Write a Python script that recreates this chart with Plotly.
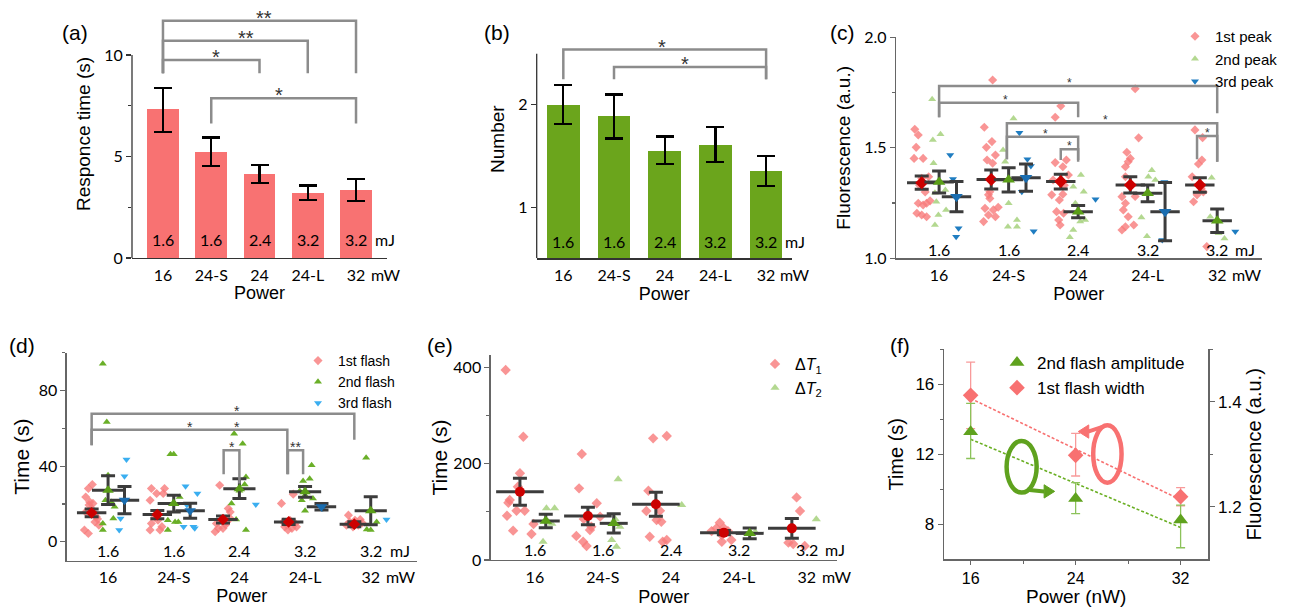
import numpy as np
import plotly.graph_objects as go

W, H = 1294, 607

# ------------------------------------------------------------------ data
power_labels = ["16", "24-S", "24", "24-L", "32"]
energy_labels = ["1.6", "1.6", "2.4", "3.2", "3.2"]
cats = [0, 1, 2, 3, 4]

# (a) response time (s)
a_time = [7.32, 5.22, 4.14, 3.22, 3.35]
a_err_hi = [1.07, 0.72, 0.43, 0.35, 0.56]
a_err_lo = [1.10, 0.67, 0.46, 0.36, 0.56]
# significance: (left, right, bar level, left leg end, right leg end, label, label x)
a_sig = [(0, 4, 11.69, 9.1, 9.1, "**", 2.1),
         (0, 3, 10.70, 9.1, 9.1, "**", 1.73),
         (0, 2, 9.75, 9.1, 9.1, "*", 1.1),
         (1, 4, 7.87, 6.63, 6.63, "*", 2.4)]

# (b) number of flashes
b_num = [2.00, 1.89, 1.55, 1.61, 1.35]
b_err_hi = [0.19, 0.21, 0.14, 0.17, 0.15]
b_err_lo = [0.19, 0.22, 0.13, 0.165, 0.14]
b_sig = [(0, 4, 2.54, 2.25, 2.25, "*", 1.94),
         (1, 4, 2.37, 2.25, 2.25, "*", 2.4)]

# (c) peak fluorescence (a.u.)
c_red_vals = [
    [1.584, 1.558, 1.502, 1.452, 1.452, 1.362, 1.369, 1.249, 1.241, 1.249, 1.204, 1.196, 1.188, 1.26, 1.30, 1.33],
    [1.807, 1.593, 1.528, 1.502, 1.467, 1.445, 1.43, 1.301, 1.287, 1.271, 1.226, 1.219, 1.231, 1.196, 1.188, 1.166],
    [1.689, 1.638, 1.433, 1.445, 1.414, 1.354, 1.377, 1.287, 1.264, 1.29, 1.211, 1.204, 1.173, 1.151, 1.33],
    [1.767, 1.545, 1.48, 1.452, 1.437, 1.414, 1.369, 1.279, 1.249, 1.219, 1.188, 1.151, 1.143, 1.128, 1.33, 1.28],
    [1.581, 1.546, 1.445, 1.427, 1.369, 1.317, 1.287, 1.256, 1.30, 1.053]]
c_red_jit = [
    [-0.35, -0.30, -0.33, -0.36, -0.23, -0.25, -0.15, -0.30, -0.23, -0.18, -0.32, -0.25, -0.18, -0.13, -0.20, -0.28],
    [-0.23, -0.35, -0.24, -0.32, -0.19, -0.31, -0.23, -0.27, -0.29, -0.27, -0.34, -0.22, -0.15, -0.29, -0.19, -0.36],
    [-0.25, -0.33, -0.33, -0.17, -0.22, -0.36, -0.14, -0.38, -0.27, -0.22, -0.31, -0.21, -0.28, -0.26, -0.20],
    [-0.18, -0.13, -0.30, -0.25, -0.28, -0.32, -0.32, -0.37, -0.32, -0.35, -0.28, -0.20, -0.32, -0.37, -0.25, -0.18],
    [-0.32, -0.21, -0.22, -0.27, -0.36, -0.23, -0.29, -0.34, -0.20, -0.15]]
c_green_vals = [
    [1.72, 1.535, 1.561, 1.43, 1.297, 1.256, 1.309, 1.219, 1.196, 1.151],
    [1.633, 1.49, 1.437, 1.249, 1.173, 1.143, 1.143],
    [1.377, 1.324, 1.301, 1.249, 1.173, 1.166, 1.128, 1.095],
    [1.398, 1.369, 1.354, 1.185, 1.10],
    [1.364, 1.188, 1.113, 1.09]]
c_green_jit = [
    [-0.10, -0.09, 0.02, -0.08, -0.06, -0.04, 0.09, 0.10, -0.01, -0.06],
    [0.07, -0.08, -0.05, 0.0, 0.12, -0.01, 0.12],
    [0.04, -0.07, 0.08, -0.04, 0.10, 0.03, -0.07, -0.12],
    [0.06, 0.01, 0.11, -0.09, -0.01],
    [-0.08, -0.10, 0.02, 0.105]]
c_blue_vals = [[1.467, 1.359, 1.136, 1.098], [1.568, 1.448, 1.418, 1.301, 1.122], [1.267], [1.345, 1.083], [1.121]]
c_blue_jit = [[0.16, 0.20, 0.28, 0.245], [0.155, 0.27, 0.32, 0.19, 0.36], [0.25], [0.24, 0.21], [0.26]]
c_red_mean = [1.342, 1.357, 1.347, 1.332, 1.332]
c_red_se = [0.030, 0.043, 0.033, 0.037, 0.033]
c_green_mean = [1.345, 1.355, 1.211, 1.294, 1.170]
c_green_se = [0.050, 0.055, 0.028, 0.038, 0.053]
c_blue_mean = [1.279, 1.365, None, 1.211, None]
c_blue_se = [0.068, 0.062, None, 0.132, None]
c_sig = [(0, 4, 1.78, 1.638, 1.656, "*", 1.87),
         (0, 2, 1.704, 1.638, 1.638, "*", 0.96),
         (0.975, 4, 1.611, 1.448, 1.437, "*", 2.39),
         (0.975, 2, 1.55, 1.448, 1.437, "*", 1.53),
         (1.75, 2, 1.493, 1.445, 1.445, "*", 1.88),
         (3.71, 4, 1.553, 1.448, 1.437, "*", 3.86)]

# (d) flash times (s)
d_red_vals = [
    [30.3, 28.2, 23.7, 21.1, 20.3, 19.4, 17.5, 15.8, 15.0, 13.2, 12.0, 10.5, 8.8, 6.2, 4.4],
    [28.2, 28.2, 25.5, 25.5, 22.0, 15.0, 13.0, 11.4, 9.7, 8.0, 6.2, 6.2],
    [29.9, 17.6, 15.8, 9.7, 11.4, 10.5, 12.3, 7.1, 5.3, 7.1, 9.0],
    [20.3, 25.2, 10.5, 11.4, 9.7, 7.9, 7.1, 7.9, 6.2, 9.0],
    [14.1, 10.5, 11.4, 11.8, 8.8, 7.9, 8.8, 10.0]]
d_red_jit = [
    [-0.24, -0.30, -0.34, -0.28, -0.23, -0.29, -0.25, -0.34, -0.20, -0.18, -0.16, -0.20, -0.14, -0.36, -0.30],
    [-0.34, -0.14, -0.26, -0.16, -0.36, -0.26, -0.29, -0.24, -0.34, -0.18, -0.36, -0.21],
    [-0.30, -0.17, -0.14, -0.35, -0.27, -0.20, -0.14, -0.32, -0.37, -0.25, -0.21],
    [-0.36, -0.18, -0.33, -0.23, -0.15, -0.31, -0.20, -0.13, -0.26, -0.28],
    [-0.34, -0.32, -0.24, -0.16, -0.37, -0.27, -0.19, -0.13]]
d_green_vals = [
    [94.1, 63.3, 35.2, 27.5, 22.0, 21.1, 18.5, 12.3, 9.7, 6.2],
    [46.3, 46.3, 23.7, 20.0, 11.4, 10.5, 10.5, 6.2],
    [57.2, 51.9, 34.3, 30.3, 27.0, 20.3, 11.8, 6.2],
    [40.5, 33.4, 32.2, 26.9, 24.6, 22.9, 22.0, 16.4],
    [44.5, 10.5, 6.5, 6.2]]
d_green_jit = [
    [-0.08, -0.02, 0.0, 0.0, -0.04, 0.05, 0.10, 0.08, -0.08, -0.08],
    [-0.05, 0.0, 0.09, 0.0, -0.09, 0.02, 0.07, -0.09],
    [-0.08, 0.05, 0.10, 0.08, 0.0, -0.12, -0.05, 0.10],
    [0.10, 0.07, -0.03, -0.08, 0.0, 0.12, -0.05, 0.0],
    [-0.07, 0.09, -0.06, 0.0]]
d_blue_vals = [[43.5, 34.7, 12.3, 6.2], [29.4, 25.5, 19.4, 7.9, 7.9, 7.1], [19.7], [19.4, 17.6], [11.8]]
d_blue_jit = [[0.28, 0.25, 0.19, 0.17], [0.18, 0.36, 0.20, 0.15, 0.30, 0.32], [0.25], [0.23, 0.27], [0.24]]
d_red_mean = [15.3, 14.4, 11.8, 10.5, 9.3]
d_red_se = [2.0, 2.2, 1.8, 1.4, 1.3]
d_green_mean = [27.3, 20.2, 28.1, 26.4, 16.4]
d_green_se = [7.6, 4.4, 5.2, 2.9, 7.4]
d_blue_mean = [22.0, 16.4, None, 18.5, None]
d_blue_se = [7.2, 4.0, None, 1.7, None]
d_sig = [(-0.25, 3.75, 67.7, 51.0, 54.0, "*", 1.97),
         (-0.25, 2.73, 59.3, 51.0, 35.7, "*", 1.25),
         (1.76, 2.0, 48.4, 35.7, 30.8, "*", 1.88),
         (2.74, 2.97, 48.4, 35.7, 35.7, "**", 2.85)]
d_extra_star = [(1.97, 59.3, "*")]

# (e) intervals (s)
e_red_vals = [
    [394.4, 256, 180, 152, 124.6, 119, 102.4, 102.4, 92, 60.9, 74.7, 54],
    [220, 148.8, 117.7, 90, 62.3, 69, 49.8, 38, 29, 85],
    [252.6, 257.4, 143.9, 101.7, 102, 83, 79.5, 48.4, 41.5, 38],
    [77.4, 65.7, 66, 60, 51.9, 41.5, 38, 60],
    [130, 101.7, 36, 33.2, 29]]
e_red_jit = [
    [-0.43, -0.17, -0.22, -0.25, -0.37, -0.39, -0.27, -0.15, -0.41, -0.32, -0.02, -0.05],
    [-0.31, -0.35, -0.09, -0.04, -0.19, -0.17, -0.39, -0.29, -0.24, -0.28],
    [-0.26, -0.06, -0.33, -0.36, -0.16, -0.21, -0.14, -0.31, -0.06, -0.12],
    [-0.28, -0.33, -0.22, -0.16, -0.25, -0.11, -0.25, -0.40],
    [-0.15, -0.10, -0.27, -0.20, -0.03]]
e_green_vals = [[107.3, 107.3, 38, 80, 75], [167.5, 69, 41.5, 27.6, 85], [114.2], [55, 58], [84.5]]
e_green_jit = [[0.17, 0.29, 0.12, 0.19, 0.25], [0.225, 0.25, 0.13, 0.20, 0.18], [0.16], [0.18, 0.24], [0.14]]
e_red_mean = [141.8, 91.3, 115.6, 56.8, 65.7]
e_red_se = [28, 18, 25, 4.5, 20.7]
e_green_mean = [81, 76.1, None, 55.3, None]
e_green_se = [14, 20, None, 11, None]

# (f) trends vs power
f_power = [16, 24, 32]
f_width = [15.37, 11.94, 9.58]
f_width_hi = [1.90, 1.26, 0.52]
f_width_lo = [1.90, 1.18, 0.53]
f_amp = [1.343, 1.216, 1.175]
f_amp_hi = [0.054, 0.030, 0.028]
f_amp_lo = [0.051, 0.029, 0.053]

# ------------------------------------------------------------------ style
TXT = "Liberation Sans, Arial, sans-serif"
TCK = "Lato, Liberation Sans, sans-serif"
AXC = "#333333"
AXC2 = "#666666"
ERR = "#3c3c3c"
BRK = "#8c8c8c"
BAR_RED = "#f87272"
BAR_GREEN = "#6ba51c"
PT_RED = "#f87a7a"
PT_GREEN_L = "#a6d17c"
PT_GREEN_D = "#6aaf28"
PT_BLUE_D = "#1f7dc1"
PT_BLUE_L = "#3aaef0"
M_RED = "#cc0000"
M_GREEN = "#5a9e18"
M_BLUE = "#1a6db0"
F_RED = "#f87171"
F_GREEN = "#5fa21e"


def xdom(a, b):
    return [a / W, b / W]


def ydom(top, bot):
    return [1 - bot / H, 1 - top / H]


def PX(p):
    return p / W


def PY(p):
    return 1 - p / H


fig = go.Figure()
shapes = []
annos = []


def xaxis_cfg(dom, rng, color=AXC, title="Power", standoff=4, **kw):
    d = dict(domain=xdom(*dom), range=rng, showgrid=False, zeroline=False,
             showline=True, linecolor=color, linewidth=1.3, ticks="", ticklen=0,
             ticklabelstandoff=2,
             tickfont=dict(family=TCK, size=16, color="black"),
             title=dict(text=title, font=dict(family=TXT, size=18, color="black"), standoff=standoff),
             fixedrange=True, automargin=False)
    d.update(kw)
    return d


def yaxis_cfg(dom, rng, tickvals, ticktext=None, minor=None, title="", showline=True,
              color=AXC, standoff=8, tsize=19, **kw):
    d = dict(domain=ydom(*dom), range=rng, showgrid=False, zeroline=False,
             showline=showline, linecolor=color, linewidth=1.3,
             ticks="outside", ticklen=5, tickwidth=1.2, tickcolor=color,
             tickvals=tickvals, tickfont=dict(family=TCK, size=16, color="black"),
             title=dict(text=title, font=dict(family=TXT, size=tsize, color="black"), standoff=standoff),
             fixedrange=True, automargin=False)
    if ticktext is not None:
        d["ticktext"] = ticktext
    if minor is not None:
        d["minor"] = dict(tickvals=minor, ticklen=3, tickwidth=1.2, tickcolor=color, ticks="outside")
    d.update(kw)
    return d


def cat_ticks():
    return dict(tickmode="array", tickvals=cats, ticktext=power_labels)


def unit_labels(xr, yr, ylab, mj_shift, mw_shift, tick_drop):
    # energy labels along the bottom and unit suffixes
    for i, t in enumerate(energy_labels):
        annos.append(dict(x=cats[i], y=ylab, xref=xr, yref=yr + " domain", text=t, showarrow=False,
                          font=dict(family=TCK, size=16, color="black"), yanchor="middle"))
    annos.append(dict(x=cats[-1], y=ylab, xref=xr, yref=yr + " domain", text="mJ", showarrow=False,
                      xshift=mj_shift, font=dict(family=TCK, size=16, color="black"), yanchor="middle"))
    annos.append(dict(x=cats[-1], y=0, xref=xr, yref=yr + " domain", text="mW", showarrow=False,
                      xshift=mw_shift, yshift=-tick_drop, font=dict(family=TCK, size=16, color="black"),
                      yanchor="middle"))


def brackets(xr, yr, sig, width, fsize, star_shift):
    for (x0, x1, yb, yl0, yl1, lab, lx) in sig:
        shapes.append(dict(type="path", xref=xr, yref=yr,
                           path=f"M {x0},{yl0} L {x0},{yb} L {x1},{yb} L {x1},{yl1}",
                           line=dict(color=BRK, width=width), layer="above"))
        annos.append(dict(x=lx, y=yb, xref=xr, yref=yr, text=lab, showarrow=False,
                          font=dict(family=TXT, size=fsize, color="#333333"),
                          yanchor="middle", yshift=star_shift))


def dots(xa, ya, vals, jit, color, symbol, size, name, legend, opacity=1.0):
    xs, ys = [], []
    for i, (vv, jj) in enumerate(zip(vals, jit)):
        for v, j in zip(vv, jj):
            xs.append(cats[i] + j)
            ys.append(v)
    fig.add_trace(go.Scatter(x=xs, y=ys, mode="markers", xaxis=xa, yaxis=ya,
                             marker=dict(symbol=symbol, size=size, color=color, opacity=opacity,
                                         line=dict(width=0)),
                             name=name, showlegend=True, legend=legend, hoverinfo="skip"))


def means(xa, ya, mvals, se, off, mcolor, msym, msize, linelen, capw=7):
    idx = [i for i, m in enumerate(mvals) if m is not None]
    x = [cats[i] + off for i in idx]
    y = [mvals[i] for i in idx]
    e = [se[i] for i in idx]
    fig.add_trace(go.Scatter(x=x, y=y, mode="markers", xaxis=xa, yaxis=ya,
                             marker=dict(symbol="line-ew-open", size=linelen, color=ERR,
                                         line=dict(width=3, color=ERR)),
                             error_y=dict(type="data", array=e, color=ERR, thickness=3, width=capw),
                             showlegend=False, hoverinfo="skip"))
    fig.add_trace(go.Scatter(x=x, y=y, mode="markers", xaxis=xa, yaxis=ya,
                             marker=dict(symbol=msym, size=msize, color=mcolor, line=dict(width=0)),
                             showlegend=False, hoverinfo="skip"))


# ------------------------------------------------------------------ (a)
fig.add_trace(go.Bar(x=cats, y=a_time, width=0.657, xaxis="x", yaxis="y",
                     marker=dict(color=BAR_RED, line=dict(width=0)),
                     error_y=dict(type="data", symmetric=False, array=a_err_hi, arrayminus=a_err_lo,
                                  color="black", thickness=2.2, width=9),
                     showlegend=False, hoverinfo="skip"))
brackets("x", "y", a_sig, 2.5, 20, 3)
unit_labels("x", "y", 0.0726, 29, 29, 16)
shapes.append(dict(type="line", xref="x domain", yref="y", x0=0, x1=0, y0=0, y1=10,
                   line=dict(color=AXC, width=1.3)))

# ------------------------------------------------------------------ (b)
fig.add_trace(go.Bar(x=cats, y=[v - 0.5 for v in b_num], base=0.5, width=0.645, xaxis="x2", yaxis="y2",
                     marker=dict(color=BAR_GREEN, line=dict(width=0)),
                     error_y=dict(type="data", symmetric=False, array=b_err_hi, arrayminus=b_err_lo,
                                  color="black", thickness=2.2, width=9),
                     showlegend=False, hoverinfo="skip"))
brackets("x2", "y2", b_sig, 2.5, 20, 3)
unit_labels("x2", "y2", 0.07, 29, 28, 16)
shapes.append(dict(type="line", xref="x2 domain", yref="y2", x0=0, x1=0, y0=0.5, y1=2.5,
                   line=dict(color=AXC, width=1.3)))

# ------------------------------------------------------------------ (c)
dots("x3", "y3", c_red_vals, c_red_jit, PT_RED, "diamond", 7, "1st peak", "legend", 0.8)
dots("x3", "y3", c_green_vals, c_green_jit, PT_GREEN_L, "triangle-up", 7, "2nd peak", "legend", 0.85)
dots("x3", "y3", c_blue_vals, c_blue_jit, PT_BLUE_D, "triangle-down", 7, "3rd peak", "legend", 1.0)
means("x3", "y3", c_red_mean, c_red_se, -0.25, M_RED, "diamond", 10, 21)
means("x3", "y3", c_green_mean, c_green_se, 0.0, M_GREEN, "triangle-up", 11, 21)
means("x3", "y3", c_blue_mean, c_blue_se, 0.25, M_BLUE, "triangle-down", 11, 21)
brackets("x3", "y3", c_sig, 2.5, 12, 3)
unit_labels("x3", "y3", 0.041, 28, 29, 16)

# ------------------------------------------------------------------ (d)
dots("x4", "y4", d_red_vals, d_red_jit, PT_RED, "diamond", 7, "1st flash", "legend2", 0.8)
dots("x4", "y4", d_green_vals, d_green_jit, PT_GREEN_D, "triangle-up", 7, "2nd flash", "legend2", 1.0)
dots("x4", "y4", d_blue_vals, d_blue_jit, PT_BLUE_L, "triangle-down", 7, "3rd flash", "legend2", 1.0)
means("x4", "y4", d_red_mean, d_red_se, -0.25, M_RED, "diamond", 9, 21)
means("x4", "y4", d_green_mean, d_green_se, 0.0, M_GREEN, "triangle-up", 10, 23)
means("x4", "y4", d_blue_mean, d_blue_se, 0.25, M_BLUE, "triangle-down", 10, 21)
brackets("x4", "y4", d_sig, 2.5, 14, 3)
for (sx, sy, st) in d_extra_star:
    annos.append(dict(x=sx, y=sy, xref="x4", yref="y4", text=st, showarrow=False,
                      font=dict(family=TXT, size=14, color="#333333"), yanchor="middle", yshift=3))
unit_labels("x4", "y4", 0.051, 29, 30, 16)

# ------------------------------------------------------------------ (e)
dots("x5", "y5", e_red_vals, e_red_jit, PT_RED, "diamond", 8, "Δ<i>T</i><sub>1</sub>", "legend3", 0.8)
dots("x5", "y5", e_green_vals, e_green_jit, PT_GREEN_L, "triangle-up", 8, "Δ<i>T</i><sub>2</sub>", "legend3", 0.85)
means("x5", "y5", e_red_mean, e_red_se, -0.22, M_RED, "circle", 10, 34)
means("x5", "y5", e_green_mean, e_green_se, 0.16, M_GREEN, "triangle-up", 11, 20)
unit_labels("x5", "y5", 0.049, 28, 30, 16)

# ------------------------------------------------------------------ (f)
kw_fit = np.polyfit(f_power, f_width, 1)
ka_fit = np.polyfit(f_power, f_amp, 1)
fx = [f_power[0], f_power[-1]]
fig.add_trace(go.Scatter(x=fx, y=list(np.polyval(kw_fit, fx)), mode="lines", xaxis="x6", yaxis="y6",
                         line=dict(color=F_RED, width=1.6, dash="3px,2px"), showlegend=False, hoverinfo="skip"))
fig.add_trace(go.Scatter(x=fx, y=list(np.polyval(ka_fit, fx)), mode="lines", xaxis="x6", yaxis="y7",
                         line=dict(color="#6aaf23", width=1.6, dash="3px,2px"), showlegend=False, hoverinfo="skip"))
fig.add_trace(go.Scatter(x=f_power, y=f_amp, mode="markers", xaxis="x6", yaxis="y7",
                         marker=dict(symbol="triangle-up", size=13, color=F_GREEN),
                         error_y=dict(type="data", symmetric=False, array=f_amp_hi, arrayminus=f_amp_lo,
                                      color="#8cc25a", thickness=1.3, width=4.5),
                         name="2nd flash amplitude", legend="legend4", hoverinfo="skip"))
fig.add_trace(go.Scatter(x=f_power, y=f_width, mode="markers", xaxis="x6", yaxis="y6",
                         marker=dict(symbol="diamond", size=12, color=F_RED),
                         error_y=dict(type="data", symmetric=False, array=f_width_hi, arrayminus=f_width_lo,
                                      color="#f89a9a", thickness=1.3, width=4.5),
                         name="1st flash width", legend="legend4", hoverinfo="skip"))
# circled arrows indicating the axis of each series
shapes.append(dict(type="circle", xref="x6", yref="y6", x0=25.34, x1=27.5, y0=10.38, y1=13.66,
                   line=dict(color=F_RED, width=4.5)))
shapes.append(dict(type="circle", xref="x6", yref="y6", x0=18.74, x1=21.03, y0=9.81, y1=12.76,
                   line=dict(color=F_GREEN, width=4.5)))
# arrow shafts and heads (left -> time axis, right -> fluorescence axis)
shapes.append(dict(type="path", xref="x6", yref="y6", path="M 26.1,13.58 L 24.95,13.3",
                   line=dict(color=F_RED, width=4)))
shapes.append(dict(type="path", xref="x6", yref="y6", path="M 24.2,13.3 L 25.0,13.68 L 25.0,12.92 Z",
                   line=dict(color=F_RED, width=1), fillcolor=F_RED))
shapes.append(dict(type="path", xref="x6", yref="y6", path="M 20.3,9.98 L 21.6,9.88",
                   line=dict(color=F_GREEN, width=4)))
shapes.append(dict(type="path", xref="x6", yref="y6", path="M 22.4,9.88 L 21.6,10.26 L 21.6,9.5 Z",
                   line=dict(color=F_GREEN, width=1), fillcolor=F_GREEN))

# ------------------------------------------------------------------ panel labels
for lab, x, y in [("(a)", 75, 33), ("(b)", 497, 33), ("(c)", 842, 33),
                  ("(d)", 22, 345), ("(e)", 440, 345), ("(f)", 900, 345)]:
    annos.append(dict(x=PX(x), y=PY(y), xref="paper", yref="paper", text=lab, showarrow=False,
                      font=dict(family=TXT, size=21, color="black"), xanchor="center", yanchor="middle"))

# ------------------------------------------------------------------ layout
layout = dict(
    template="none",
    width=W, height=H, autosize=False, margin=dict(l=0, r=0, t=0, b=0, autoexpand=False),
    paper_bgcolor="white", plot_bgcolor="white", bargap=0,
    font=dict(family=TXT, color="black"),
    # (a)
    xaxis=xaxis_cfg((132, 387), [-0.642, 4.642], anchor="y", **cat_ticks()),
    yaxis=yaxis_cfg((10, 258), [0, 12.217], [0, 5, 10], minor=[2.5, 7.5],
                    title="Responce time (s)", showline=False, anchor="x"),
    # (b)
    xaxis2=xaxis_cfg((536.7, 791.7), [-0.525, 4.505], anchor="y2", **cat_ticks()),
    yaxis2=yaxis_cfg((20, 258.3), [0.5, 2.829], [1, 2], title="Number", showline=False, anchor="x2"),
    # (c)
    xaxis3=xaxis_cfg((896, 1261.7), [-0.62, 4.64], color=AXC2, anchor="y3", **cat_ticks()),
    yaxis3=yaxis_cfg((37.3, 258.3), [1, 2], [1.0, 1.5, 2.0], ["1.0", "1.5", "2.0"], minor=[1.25, 1.75],
                     title="Fluorescence (a.u.)", color=AXC2, anchor="x3", tsize=19),
    # (d)
    xaxis4=xaxis_cfg((66.7, 416.7), [-0.63, 4.70], color=AXC2, anchor="y4", **cat_ticks()),
    yaxis4=yaxis_cfg((352.7, 560.7), [-10, 100], [0, 40, 80], minor=[20, 60, 100],
                     title="Time (s)", color=AXC2, anchor="x4", tsize=21, standoff=3),
    # (e)
    xaxis5=xaxis_cfg((490.7, 836.7), [-0.65, 4.44], color=AXC2, anchor="y5", standoff=10, **cat_ticks()),
    yaxis5=yaxis_cfg((355, 560), [0, 425.6], [0, 200, 400], minor=[100, 300],
                     title="Time (s)", color=AXC2, anchor="x5", tsize=21, standoff=0),
    # (f)
    xaxis6=dict(domain=xdom(944, 1208.3), range=[13.97, 34.11], showgrid=False, zeroline=False,
                showline=True, linecolor=AXC2, linewidth=1.3, ticks="outside", ticklen=4, tickcolor=AXC2,
                tickvals=f_power, tickfont=dict(family=TXT, size=16, color="black"),
                minor=dict(tickvals=[20, 28], ticklen=3, tickcolor=AXC2, ticks="outside"),
                title=dict(text="Power (nW)", font=dict(family=TXT, size=19, color="black"), standoff=0),
                anchor="y6", fixedrange=True, automargin=False),
    yaxis6=dict(domain=ydom(349.3, 559.3), range=[6, 18], showgrid=False, zeroline=False,
                showline=True, linecolor=AXC2, linewidth=1.3, ticks="outside", ticklen=5, tickcolor=AXC2,
                tickvals=[8, 12, 16], tickfont=dict(family=TXT, size=17, color="black"),
                minor=dict(tickvals=[10, 14, 18], ticklen=3, tickcolor=AXC2, ticks="outside"),
                title=dict(text="Time (s)", font=dict(family=TXT, size=20, color="black"), standoff=6),
                anchor="x6", fixedrange=True, automargin=False),
    yaxis7=dict(domain=ydom(349.3, 559.3), range=[1.1, 1.5], overlaying="y6", side="right",
                showgrid=False, zeroline=False, showline=True, linecolor=AXC2, linewidth=1.3,
                ticks="outside", ticklen=5, tickcolor=AXC2, tickvals=[1.2, 1.4], ticktext=["1.2", "1.4"],
                tickfont=dict(family=TXT, size=17, color="black"),
                minor=dict(tickvals=[1.3, 1.5], ticklen=3, tickcolor=AXC2, ticks="outside"),
                title=dict(text="Fluorescence (a.u.)", font=dict(family=TXT, size=20, color="black"), standoff=6),
                anchor="x6", fixedrange=True, automargin=False),
    legend=dict(x=PX(1175), y=PY(20), xanchor="left", yanchor="top", bgcolor="rgba(0,0,0,0)",
                font=dict(family=TXT, size=15, color="black"), itemclick=False),
    legend2=dict(x=PX(298), y=PY(345), xanchor="left", yanchor="top", bgcolor="rgba(0,0,0,0)",
                 font=dict(family=TXT, size=14, color="black"), itemclick=False),
    legend3=dict(x=PX(755), y=PY(347), xanchor="left", yanchor="top", bgcolor="rgba(0,0,0,0)",
                 font=dict(family=TXT, size=16, color="black"), itemclick=False),
    legend4=dict(x=PX(997), y=PY(345), xanchor="left", yanchor="top", bgcolor="rgba(0,0,0,0)",
                 font=dict(family=TXT, size=17, color="black"), itemclick=False),
    shapes=shapes, annotations=annos,
)
fig.update_layout(**layout)
fig.write_html("out.html", config={"displayModeBar": False, "staticPlot": True},
               post_script="document.body.style.margin='0';document.body.style.overflow='hidden';")
